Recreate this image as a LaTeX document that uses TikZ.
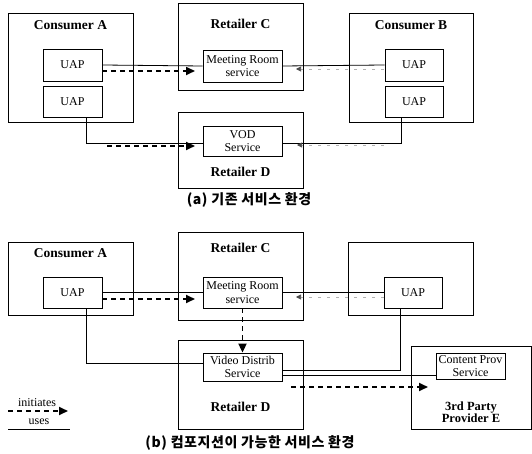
\documentclass[tikz,border=0pt]{standalone}
\usepackage{fontspec}
\setmainfont{Liberation Serif}
\newfontfamily\krfont{Noto Sans CJK KR}[LetterSpace=4]
\usetikzlibrary{arrows.meta}
\begin{document}
\begin{tikzpicture}[x=1pt,y=-1pt,
 box/.style={draw,line width=0.8pt,inner sep=0pt,align=center,font=\fontsize{12}{13.5}\selectfont},
 frame/.style={draw,line width=0.8pt,inner sep=0pt},
 title/.style={font=\fontsize{13.5}{14}\selectfont\bfseries,inner sep=0pt,align=center},
 uses/.style={line width=0.8pt},
 initiates/.style={line width=1.8pt,dash pattern=on 5pt off 4pt,-{Triangle[length=9pt,width=8pt]}},
 faint/.style={line width=0.6pt,black!30,dash pattern=on 3pt off 6pt,-{Triangle[length=5pt,width=5pt,color=black!70]}},
 caption/.style={font=\krfont\bfseries\fontsize{14}{15}\selectfont,inner sep=0pt},
 legend/.style={font=\fontsize{12}{13}\selectfont,inner sep=0pt}
]
\useasboundingbox (0,0) rectangle (532,454);
% ---------------- (a) ----------------
\node[frame,minimum width=125pt,minimum height=109pt] (CA) at (70.5,67.5) {};
\node[title] (CAt) at (70.5,25) {Consumer A};
\node[box,minimum width=59pt,minimum height=32pt] (UA1) at (72.5,65) {UAP};
\node[box,minimum width=59pt,minimum height=31pt] (UA2) at (72.5,101.5) {UAP};
\node[frame,minimum width=125pt,minimum height=87pt] (RC) at (240.5,46.5) {};
\node[title] (RCt) at (240.5,24) {Retailer C};
\node[box,minimum width=79pt,minimum height=32pt] (MR) at (242.5,66) {Meeting Room\\service};
\node[frame,minimum width=125pt,minimum height=76pt] (RD) at (240.5,150) {};
\node[title] (RDt) at (240.5,172) {Retailer D};
\node[box,minimum width=79pt,minimum height=30pt] (VOD) at (242.5,141) {VOD\\Service};
\node[frame,minimum width=124pt,minimum height=109pt] (CB) at (411,67.5) {};
\node[title] (CBt) at (411,25) {Consumer B};
\node[box,minimum width=58pt,minimum height=32pt] (UB1) at (414,65) {UAP};
\node[box,minimum width=58pt,minimum height=31pt] (UB2) at (414,101.5) {UAP};
\coordinate (a1) at (86,143);
\coordinate (a2) at (401,143);
\draw[uses] (UA1.east) -- (MR.west);
\draw[uses] (UB1.west) -- (MR.east);
\draw[uses] (UA2.south -| a1) -- (a1) -- (a1 -| VOD.west);
\draw[uses] (UB2.south -| a2) -- (a2) -- (a2 -| VOD.east);
\coordinate (d1s) at (102,71); \coordinate (d1e) at (195,71);
\draw[initiates] (d1s) -- (d1e);
\coordinate (d2s) at (107,146); \coordinate (d2e) at (195,146);
\draw[initiates] (d2s) -- (d2e);
\coordinate (f1s) at (384,69); \coordinate (f1e) at (296,69);
\draw[faint] (f1s) -- (f1e);
\coordinate (f2s) at (384,145); \coordinate (f2e) at (297,145);
\draw[faint] (f2s) -- (f2e);
\node[caption] (capa) at (249,200) {(a) 기존 서비스 환경};
% ---------------- (b) ----------------
\node[frame,minimum width=125pt,minimum height=73pt] (CA2) at (70.5,278.5) {};
\node[title] (CA2t) at (70.5,253) {Consumer A};
\node[box,minimum width=59pt,minimum height=31pt] (UC) at (72.5,292.5) {UAP};
\node[frame,minimum width=125pt,minimum height=88pt] (RC2) at (240.5,276) {};
\node[title] (RC2t) at (240.5,248) {Retailer C};
\node[box,minimum width=79pt,minimum height=31pt] (MR2) at (242.5,292.5) {Meeting Room\\service};
\node[frame,minimum width=125pt,minimum height=89pt] (RD2) at (240.5,384.5) {};
\node[title] (RD2t) at (240.5,407) {Retailer D};
\node[box,minimum width=79pt,minimum height=28pt] (VD) at (242.5,367) {Video Distrib\\Service};
\node[frame,minimum width=125pt,minimum height=73pt] (CB2) at (410.5,278.5) {};
\node[box,minimum width=58pt,minimum height=31pt] (UD) at (413,292.5) {UAP};
\node[frame,minimum width=120pt,minimum height=83pt] (PE) at (471,387.5) {};
\node[title,font=\fontsize{12.5}{12}\selectfont\bfseries] (PEt) at (471,412) {3rd Party\\Provider E};
\node[box,minimum width=69pt,minimum height=26pt] (CP) at (470.5,366) {Content Prov\\Service};
\coordinate (b1) at (86,363);
\coordinate (b2) at (400,370);
\coordinate (b3) at (282,375);
\draw[uses] (UC.east) -- (MR2.west);
\draw[uses] (UD.west) -- (MR2.east);
\draw[uses] (UC.south -| b1) -- (b1) -- (b1 -| VD.west);
\draw[uses] (UD.south -| b2) -- (b2) -- (b2 -| VD.east);
\draw[uses] (b3) -- (b3 -| CP.west);
\coordinate (e1s) at (102,299); \coordinate (e1e) at (195,299);
\draw[initiates] (e1s) -- (e1e);
\draw[initiates] (MR2.south) -- (VD.north);
\coordinate (e2s) at (291,387); \coordinate (e2e) at (428,387);
\draw[initiates] (e2s) -- (e2e);
\coordinate (g1s) at (384,297); \coordinate (g1e) at (296,297);
\draw[faint] (g1s) -- (g1e);
% legend
\node[legend] (li) at (37,403) {initiates};
\coordinate (l1s) at (8,411); \coordinate (l1e) at (68,411);
\draw[initiates] (l1s) -- (l1e);
\node[legend] (lu) at (39,422) {uses};
\coordinate (l2s) at (8,429); \coordinate (l2e) at (70,429);
\draw[uses] (l2s) -- (l2e);
\node[caption] (capb) at (250,443) {(b) 컴포지션이 가능한 서비스 환경};
\end{tikzpicture}
\end{document}
